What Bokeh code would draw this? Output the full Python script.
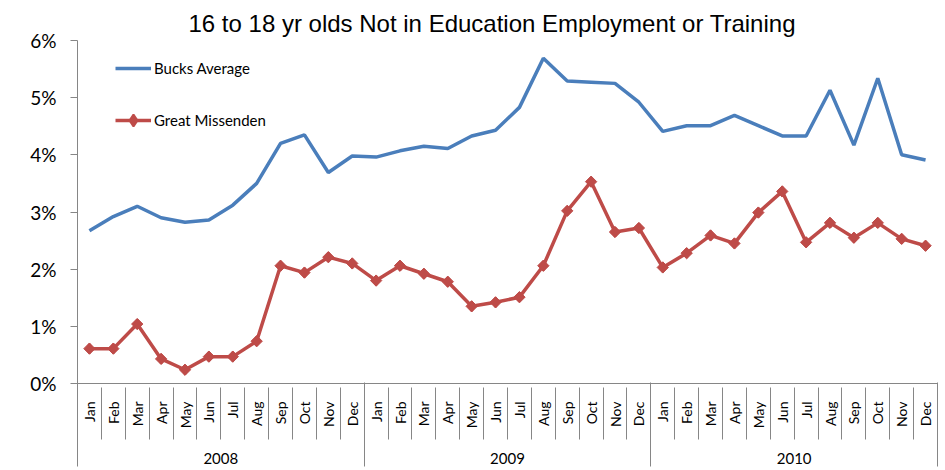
import math
from bokeh.plotting import figure
from bokeh.models import (Range1d, FixedTicker, LinearAxis, CustomJSTickFormatter,
                          PrintfTickFormatter, Legend, LegendItem)
from bokeh.embed import file_html
from bokeh.resources import INLINE

title_text = "16 to 18 yr olds Not in Education Employment or Training"
months = ["Jan", "Feb", "Mar", "Apr", "May", "Jun", "Jul", "Aug", "Sep", "Oct", "Nov", "Dec"]
years = ["2008", "2009", "2010"]
y_ticks = [0, 1, 2, 3, 4, 5, 6]

bucks_average = [2.67, 2.92, 3.10, 2.90, 2.82, 2.86, 3.12, 3.50, 4.20, 4.35, 3.69, 3.98,
                 3.96, 4.07, 4.15, 4.11, 4.33, 4.43, 4.83, 5.69, 5.29, 5.27, 5.25, 4.92,
                 4.41, 4.51, 4.51, 4.69, 4.51, 4.33, 4.33, 5.13, 4.17, 5.34, 4.00, 3.91]
great_missenden = [0.61, 0.61, 1.04, 0.43, 0.24, 0.47, 0.47, 0.74, 2.06, 1.94, 2.21, 2.10,
                   1.80, 2.06, 1.92, 1.78, 1.35, 1.42, 1.51, 2.06, 3.02, 3.53, 2.65, 2.72,
                   2.03, 2.28, 2.59, 2.45, 2.99, 3.36, 2.47, 2.81, 2.55, 2.81, 2.53, 2.41]

n = len(bucks_average)
xs = [i + 0.5 for i in range(n)]
boundaries = list(range(n + 1))
year_centers = [6 + 12 * k for k in range(len(years))]
year_bounds = [12 * k for k in range(len(years) + 1)]

BLUE = "#4A7EBB"
RED = "#BE4B48"
GREY = "#868686"
FONT = "Lato"

p = figure(width=945, height=470, output_backend="svg", toolbar_location=None,
           x_range=Range1d(0, n), y_range=Range1d(0, 6),
           min_border_left=77, min_border_right=8, min_border_top=40, min_border_bottom=87)
p.outline_line_color = None
p.xgrid.visible = False
p.ygrid.visible = False

p.title.text = title_text
p.title.text_font = "Liberation Sans"
p.title.text_font_size = "24px"
p.title.text_font_style = "normal"
p.title.text_color = "#000000"
p.title.align = "left"
p.title.offset = 111
p.title.standoff = 8

# y axis
ya = p.yaxis[0]
ya.ticker = FixedTicker(ticks=y_ticks, minor_ticks=[])
ya.formatter = PrintfTickFormatter(format="%d%%")
ya.axis_line_color = GREY
ya.major_tick_line_color = GREY
ya.major_tick_out = 7
ya.major_tick_in = 0
ya.major_label_standoff = 14
ya.major_label_text_font = FONT
ya.major_label_text_font_size = "19px"
ya.major_label_text_color = "#000000"

# month label axis
xa = p.xaxis[0]
xa.ticker = FixedTicker(ticks=xs, minor_ticks=[])
xa.formatter = CustomJSTickFormatter(args=dict(months=months),
                                     code="return months[Math.floor(tick) % 12];")
xa.axis_line_color = GREY
xa.major_tick_out = 0
xa.major_tick_in = 0
xa.minor_tick_out = 0
xa.minor_tick_in = 0
xa.major_label_orientation = math.pi / 2
xa.major_label_standoff = 18
xa.major_label_text_font = FONT
xa.major_label_text_font_size = "14px"
xa.major_label_text_color = "#000000"

# year label axis with month separators
yr_axis = LinearAxis(ticker=FixedTicker(ticks=year_centers, minor_ticks=boundaries),
                     formatter=CustomJSTickFormatter(args=dict(years=years),
                                                     code="return years[Math.floor(tick / 12)];"))
yr_axis.axis_line_color = None
yr_axis.major_tick_in = 0
yr_axis.major_tick_out = 0
yr_axis.minor_tick_in = 44
yr_axis.minor_tick_out = 8
yr_axis.minor_tick_line_color = GREY
yr_axis.major_label_standoff = 13
yr_axis.major_label_text_font = FONT
yr_axis.major_label_text_font_size = "15px"
yr_axis.major_label_text_color = "#000000"
p.add_layout(yr_axis, "below")

# year separators
sep = LinearAxis(ticker=FixedTicker(ticks=year_bounds, minor_ticks=[]),
                 formatter=CustomJSTickFormatter(code="return '';"))
sep.axis_line_color = None
sep.major_tick_in = 84
sep.major_tick_out = 0
sep.minor_tick_in = 0
sep.minor_tick_out = 0
sep.major_tick_line_color = GREY
sep.major_label_standoff = 0
sep.major_label_text_font_size = "0px"
p.add_layout(sep, "below")

# series
r_blue = p.line(xs, bucks_average, line_color=BLUE, line_width=3.5)
r_red = p.line(xs, great_missenden, line_color=RED, line_width=3.5)
# narrow diamonds hidden beneath the markers; they supply the legend's diamond
r_leg = p.scatter(xs, great_missenden, marker="diamond", size=9,
                  fill_color=RED, line_color=RED, line_width=2)
r_red_m = p.scatter(xs, great_missenden, marker="square", angle=math.pi / 4, size=8,
                    fill_color=RED, line_color=RED)

legend = Legend(items=[LegendItem(label="Bucks Average", renderers=[r_blue]),
                       LegendItem(label="Great Missenden", renderers=[r_red, r_leg])],
                location=(38, 248), margin=0, padding=0, spacing=22,
                glyph_width=36, glyph_height=30, label_height=20, label_standoff=3,
                label_text_font=FONT, label_text_font_size="15px",
                label_text_color="#000000",
                border_line_color=None, background_fill_alpha=0)
p.add_layout(legend, "center")

open("out.html", "w").write(file_html(p, INLINE))
